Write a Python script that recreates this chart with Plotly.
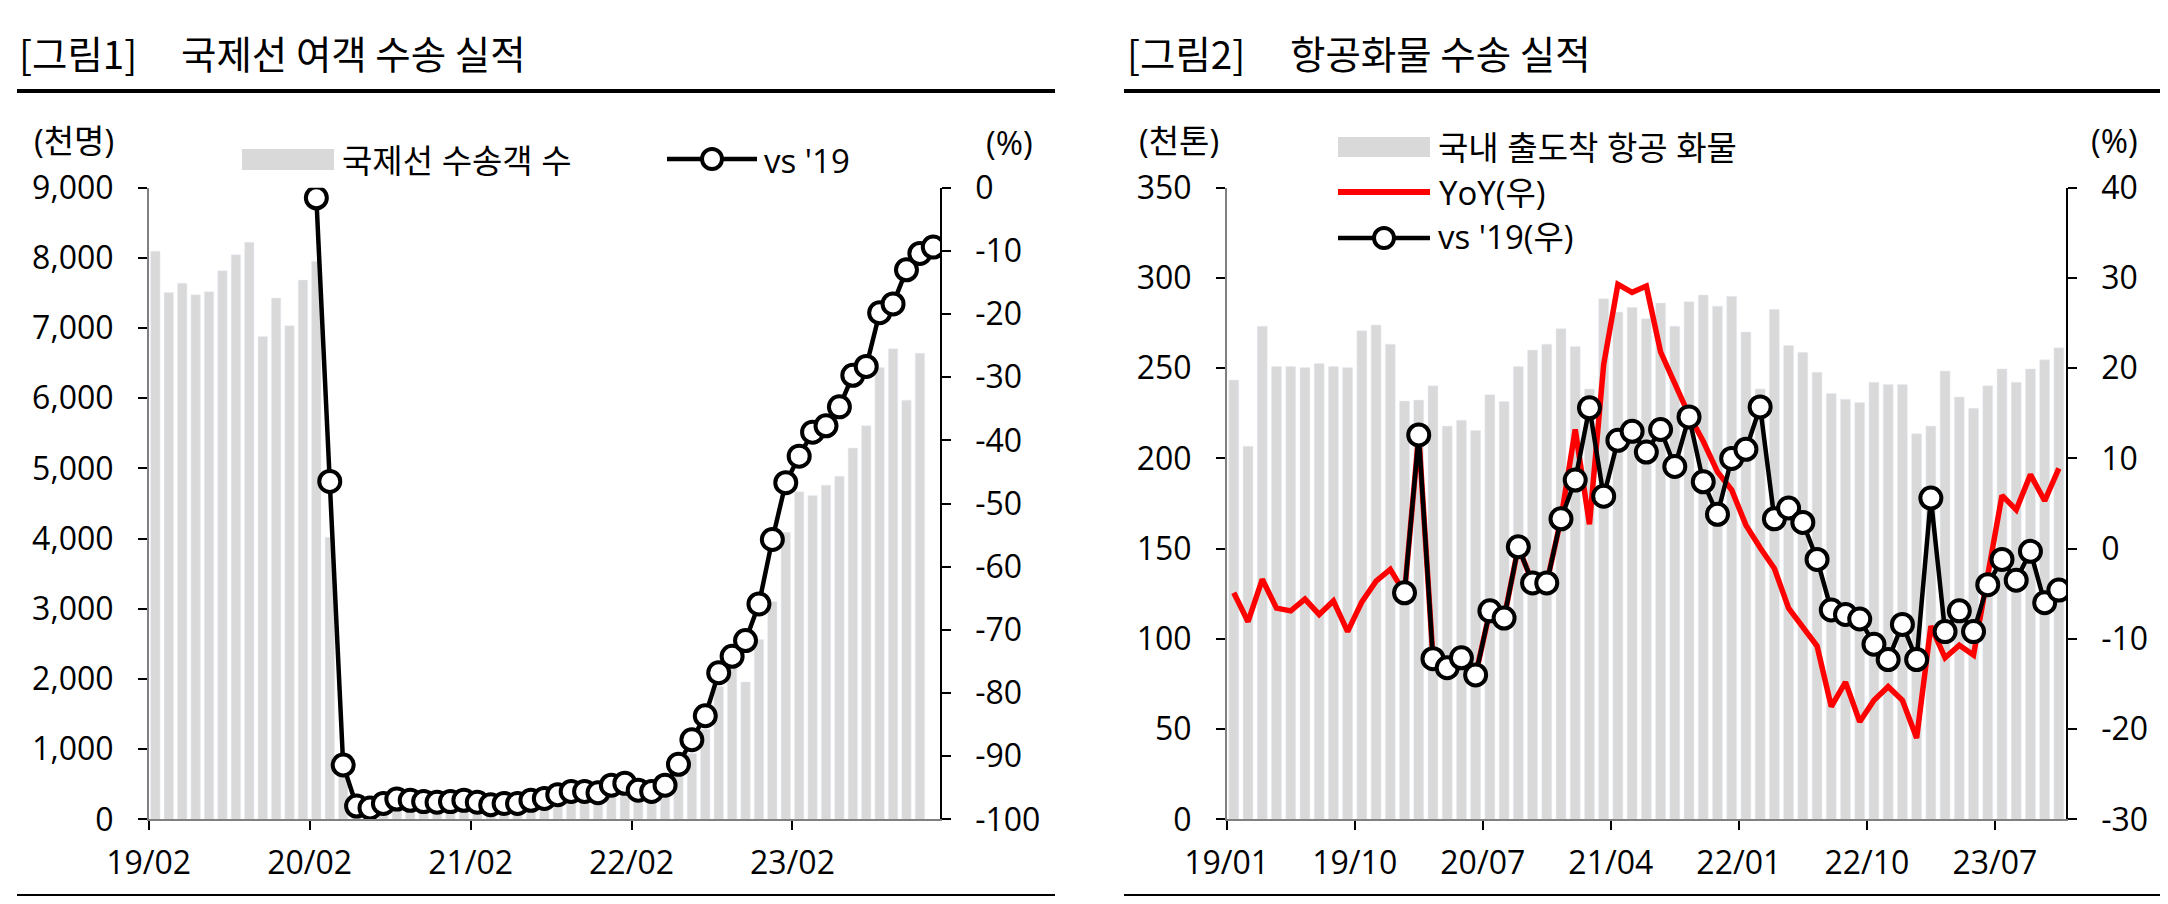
import plotly.graph_objects as go

W, H = 2168, 904
OFF = 8  # the page body keeps its default 8px margin
FW, FH = W - 2 * OFF, H - 2 * OFF

# months on both charts: 19/01 .. 23/11
months = [f"{yy}/{mm:02d}" for yy in range(19, 24) for mm in range(1, 13)][:59]

# [그림1] 국제선 여객 수송 실적 (천명), 19/01 ~ 23/10
pax = [8096, 7505, 7638, 7473, 7518, 7816, 8045, 8223, 6881, 7428, 7034, 7683,
       7950, 4020, 657, 157, 135, 195, 257, 247, 193, 201, 197, 230,
       219, 173, 191, 187, 226, 258, 314, 362, 303, 312, 380, 438,
       372, 330, 412, 658, 940, 1282, 1893, 2148, 1957, 2562, 3104, 4092,
       4666, 4615, 4761, 4889, 5290, 5609, 6438, 6705, 5972, 6642]
# vs '19 (%), 20/01 ~ 23/11
pax_vs19 = [-1.6, -46.5, -91.4, -97.9, -98.2, -97.5, -96.8, -97.0, -97.2, -97.3, -97.2, -97.0,
            -97.3, -97.7, -97.5, -97.5, -97.0, -96.7, -96.1, -95.6, -95.6, -95.8, -94.6, -94.3,
            -95.4, -95.6, -94.6, -91.3, -87.4, -83.6, -76.8, -74.2, -71.7, -65.9, -55.7, -46.7,
            -42.5, -38.7, -37.7, -34.7, -29.7, -28.3, -19.8, -18.4, -13.0, -10.4, -9.4]
tick1_text = ['19/02', '20/02', '21/02', '22/02', '23/02']

# [그림2] 항공화물 수송 실적 (천톤), 19/01 ~ 23/11
cargo = [243.4, 206.7, 273.2, 250.9, 250.9, 250.4, 252.6, 250.9, 250.4, 270.7, 273.9, 263.3,
         231.8, 232.3, 240.2, 217.9, 221.1, 215.4, 235.3, 231.5, 250.9, 260.0, 263.3, 271.9,
         262.0, 238.5, 288.5, 281.1, 283.6, 277.4, 286.1, 273.2, 286.8, 290.5, 284.3, 289.8,
         270.0, 238.5, 282.6, 262.5, 258.8, 247.7, 236.0, 232.8, 231.0, 242.2, 241.0, 241.0,
         213.7, 217.9, 248.4, 234.0, 227.8, 240.2, 249.6, 242.2, 249.6, 254.6, 261.3]
cargo_yoy = [-4.9, -8.1, -3.4, -6.6, -6.9, -5.6, -7.3, -5.8, -9.2, -5.9, -3.6, -2.3,
             -4.9, 12.6, -12.2, -13.2, -12.1, -14.0, -6.9, -7.7, 0.2, -3.8, -3.8, 3.3,
             13.2, 2.7, 20.4, 29.3, 28.4, 29.1, 21.8, 18.3, 14.8, 11.9, 8.5, 6.5,
             2.6, 0.1, -2.2, -6.6, -8.8, -10.8, -17.5, -14.8, -19.2, -16.8, -15.3, -16.8,
             -21.0, -8.6, -12.1, -10.7, -11.8, -2.9, 5.9, 4.3, 8.2, 5.3, 8.9]
# vs '19 (%), 20/01 ~ 23/11
cargo_vs19 = [-4.9, 12.6, -12.2, -13.2, -12.1, -14.0, -6.9, -7.7, 0.2, -3.8, -3.8, 3.3,
              7.6, 15.6, 5.8, 12.0, 13.0, 10.7, 13.2, 9.1, 14.6, 7.4, 3.8, 10.0,
              11.0, 15.7, 3.3, 4.5, 2.9, -1.2, -6.8, -7.3, -7.8, -10.6, -12.3, -8.4,
              -12.3, 5.6, -9.2, -6.9, -9.2, -4.0, -1.2, -3.5, -0.3, -6.0, -4.6]
tick2_text = ['19/01', '19/10', '20/07', '21/04', '22/01', '22/10', '23/07']

GREY = '#d9d9d9'
FONT = 'Open Sans, Noto Sans CJK KR'
KFONT = 'Noto Sans CJK KR'


def fx(x):
    return (x - OFF) / FW


def fy(y):
    return 1 - (y - OFF) / FH


circle = dict(symbol='circle', size=21, color='white', line=dict(color='black', width=4))

fig = go.Figure()

# chart 1
fig.add_trace(go.Bar(x=list(range(len(pax))), y=pax, marker_color=GREY,
                     xaxis='x', yaxis='y', showlegend=False))
fig.add_trace(go.Scatter(x=[months.index('20/01') + i for i in range(len(pax_vs19))], y=pax_vs19,
                         mode='lines+markers', xaxis='x', yaxis='y2', showlegend=False,
                         line=dict(color='black', width=4.5), marker=circle))

# chart 2
fig.add_trace(go.Bar(x=list(range(len(cargo))), y=cargo, marker_color=GREY,
                     xaxis='x2', yaxis='y3', showlegend=False))
fig.add_trace(go.Scatter(x=list(range(len(cargo_yoy))), y=cargo_yoy, mode='lines',
                         xaxis='x2', yaxis='y4', showlegend=False,
                         line=dict(color='#ff0000', width=5.5)))
fig.add_trace(go.Scatter(x=[months.index('20/01') + i for i in range(len(cargo_vs19))], y=cargo_vs19,
                         mode='lines+markers', xaxis='x2', yaxis='y4', showlegend=False,
                         line=dict(color='black', width=4.5), marker=circle))

ydom = [fy(819.3), fy(187.7)]
common_x = dict(range=[-0.5, len(months) - 0.5], showgrid=False, zeroline=False,
                showline=True, linecolor='#808080', linewidth=1.5, automargin=False,
                ticks='outside', ticklen=9, tickcolor='black', tickwidth=1.5,
                tickfont=dict(size=32), ticklabelstandoff=6)
common_y = dict(showgrid=False, zeroline=False, showline=True, linewidth=1.5, automargin=False,
                ticks='outside', ticklen=9, tickcolor='black', tickwidth=1.5,
                tickfont=dict(size=32), ticklabelstandoff=18)

pct1 = list(range(-100, 1, 10))
pct2 = list(range(-30, 41, 10))

fig.update_layout(
    width=FW, height=FH,
    margin=dict(l=0, r=0, t=0, b=0, pad=0, autoexpand=False),
    paper_bgcolor='white', plot_bgcolor='white',
    font=dict(family=FONT, color='black', size=33),
    bargap=0.3,
    xaxis=dict(domain=[fx(148.7), fx(940)], anchor='y',
               tickvals=[months.index(m) - 0.5 for m in ['19/01', '20/01', '21/01', '22/01', '23/01']],
               ticktext=tick1_text, **common_x),
    yaxis=dict(domain=ydom, anchor='x', range=[0, 9000], dtick=1000, tickformat=',',
               linecolor='#808080', **common_y),
    yaxis2=dict(overlaying='y', anchor='x', side='right', range=[-100, 0],
                tickvals=pct1, ticktext=[str(v) for v in pct1], linecolor='black', **common_y),
    xaxis2=dict(domain=[fx(1226.7), fx(2066)], anchor='y3',
                tickvals=[months.index(m) - 0.5 for m in ['19/01', '19/10', '20/07', '21/04', '22/01', '22/10', '23/07']],
                ticktext=tick2_text, **common_x),
    yaxis3=dict(domain=ydom, anchor='x2', range=[0, 350], dtick=50,
                linecolor='#808080', **common_y),
    yaxis4=dict(overlaying='y3', anchor='x2', side='right', range=[-30, 40],
                tickvals=pct2, ticktext=[str(v) for v in pct2], linecolor='black', **common_y),
)

shapes = []
# title rules
for x0, x1 in [(17, 1055), (1124, 2160)]:
    shapes.append(dict(type='line', xref='paper', yref='paper', x0=fx(x0), x1=fx(x1),
                       y0=fy(91), y1=fy(91), line=dict(color='black', width=4)))
    shapes.append(dict(type='line', xref='paper', yref='paper', x0=fx(x0), x1=fx(x1),
                       y0=fy(896), y1=fy(896), line=dict(color='black', width=4)))


def legend_box(x0, x1, y0, y1):
    shapes.append(dict(type='rect', xref='paper', yref='paper', x0=fx(x0), x1=fx(x1),
                       y0=fy(y1), y1=fy(y0), fillcolor=GREY, line=dict(width=0)))


def legend_line(x0, x1, y, color, width, marker=False):
    shapes.append(dict(type='line', xref='paper', yref='paper', x0=fx(x0), x1=fx(x1),
                       y0=fy(y), y1=fy(y), line=dict(color=color, width=width)))
    if marker:
        xc = (x0 + x1) / 2
        shapes.append(dict(type='circle', xref='paper', yref='paper',
                           x0=fx(xc - 10), x1=fx(xc + 10), y0=fy(y + 10), y1=fy(y - 10),
                           fillcolor='white', line=dict(color='black', width=4)))


legend_box(242, 334, 149, 170)
legend_line(667, 757, 159, 'black', 4.5, marker=True)
legend_box(1338, 1430, 137, 157)
legend_line(1338, 1430, 192, '#ff0000', 6)
legend_line(1338, 1430, 238, 'black', 4.5, marker=True)

annotations = []


def text(t, x, y, size=33, anchor='left', family=FONT):
    annotations.append(dict(text=t, x=fx(x), y=fy(y), xref='paper', yref='paper',
                            xanchor=anchor, yanchor='middle', showarrow=False,
                            font=dict(size=size, family=family, color='black')))


text('[그림1]', 17, 52, 38.5, family=KFONT)
text('국제선 여객 수송 실적', 179, 52, 38.5, family=KFONT)
text('[그림2]', 1125, 52, 38.5, family=KFONT)
text('항공화물 수송 실적', 1288, 52, 38.5, family=KFONT)

text('(천명)', 74, 141, anchor='center')
text('(%)', 1009, 142, anchor='center')
text('(천톤)', 1179, 141, anchor='center')
text('(%)', 2114, 140, anchor='center')

text('국제선 수송객 수', 340, 160)
text("vs '19", 762, 160)
text('국내 출도착 항공 화물', 1436, 147)
text('YoY(우)', 1437, 192)
text("vs '19(우)", 1436, 237)

fig.update_layout(shapes=shapes, annotations=annotations)

fig.write_html("out.html")
